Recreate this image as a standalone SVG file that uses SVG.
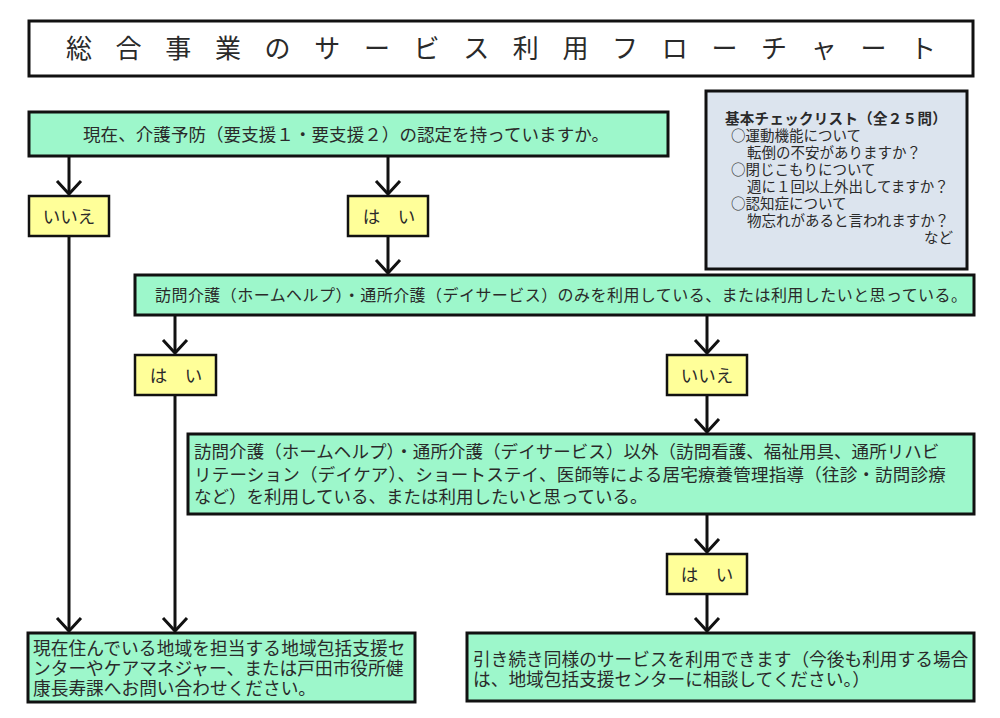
<svg xmlns="http://www.w3.org/2000/svg" width="1000" height="718" viewBox="0 0 1000 718">
<style>
text{font-family:"Noto Sans CJK JP","Noto Sans CJK SC",sans-serif;fill:#2a2a2a}
.box{fill:#9DF7CB;stroke:#111;stroke-width:3}
.ans{fill:#FFFF99;stroke:#111;stroke-width:2.5}
.title{fill:#fff;stroke:#111;stroke-width:3}
.note{fill:#DCE4EE;stroke:#111;stroke-width:3}
.conn{stroke:#111;stroke-width:3;fill:none;marker-end:url(#v)}
.t17{font-size:17.5px}
.t16{font-size:16px}
.t18{font-size:17.7px}
.lab{font-size:17.5px;text-anchor:middle}
.n{font-size:14.5px}
</style>
<defs>
<marker id="v" markerUnits="userSpaceOnUse" viewBox="-16 -16 32 32" markerWidth="32" markerHeight="32" refX="0" refY="0" orient="auto">
<path d="M-13,-12 L0,0 L-13,12" fill="none" stroke="#111" stroke-width="3"/>
</marker>
</defs>
<rect width="1000" height="718" fill="#fff"/>

<g id="title">
<rect class="title" x="29" y="21" width="944" height="55"/>
<text style="font-size:26px;text-anchor:middle" y="58" x="79 128.6 178.3 227.9 277.6 327.2 376.9 426.5 476.2 525.8 575.5 625.1 674.8 724.4 774.1 823.7 873.4 923">総合事業のサービス利用フローチャート</text>
</g>

<g id="connectors">
<line class="conn" x1="69" y1="156" x2="69" y2="194"/>
<line class="conn" x1="388" y1="156" x2="388" y2="194"/>
<line class="conn" x1="388" y1="236" x2="388" y2="273"/>
<line class="conn" x1="69" y1="236" x2="69" y2="631"/>
<line class="conn" x1="175" y1="315" x2="175" y2="353"/>
<line class="conn" x1="175" y1="395" x2="175" y2="631"/>
<line class="conn" x1="707" y1="315" x2="707" y2="353"/>
<line class="conn" x1="707" y1="395" x2="707" y2="432"/>
<line class="conn" x1="707" y1="514" x2="707" y2="552"/>
<line class="conn" x1="707" y1="594" x2="707" y2="631"/>
</g>

<g id="q1">
<rect class="box" x="29" y="112" width="639" height="44"/>
<text class="t17" x="83" y="141" textLength="526" lengthAdjust="spacing">現在、介護予防（要支援１・要支援２）の認定を持っていますか。</text>
</g>

<g id="checklist">
<rect class="note" x="706" y="91" width="261" height="178"/>
<text class="n" x="725" y="124"><tspan font-weight="bold" letter-spacing="0.3">基本チェックリスト（全２５問）</tspan><tspan x="731" dy="17">○運動機能について</tspan><tspan x="747" dy="17">転倒の不安がありますか？</tspan><tspan x="731" dy="17">○閉じこもりについて</tspan><tspan x="747" dy="17">週に１回以上外出してますか？</tspan><tspan x="731" dy="17">○認知症について</tspan><tspan x="747" dy="17">物忘れがあると言われますか？</tspan><tspan x="924" dy="17">など</tspan></text>
</g>

<g id="a1-no">
<rect class="ans" x="29" y="196" width="80" height="40"/>
<text class="lab" x="69" y="223">いいえ</text>
</g>

<g id="a1-yes">
<rect class="ans" x="348" y="196" width="80" height="40"/>
<text class="lab" x="389" y="223">は　い</text>
</g>

<g id="q2">
<rect class="box" x="135" y="275" width="839" height="40"/>
<text class="t16" x="155" y="301" textLength="812" lengthAdjust="spacing">訪問介護（ホームヘルプ）・通所介護（デイサービス）のみを利用している、または利用したいと思っている。</text>
</g>

<g id="a2-yes">
<rect class="ans" x="135" y="355" width="81" height="40"/>
<text class="lab" x="176" y="382">は　い</text>
</g>

<g id="a2-no">
<rect class="ans" x="667" y="355" width="80" height="40"/>
<text class="lab" x="707" y="382">いいえ</text>
</g>

<g id="q3">
<rect class="box" x="188" y="434" width="786" height="80"/>
<text class="t17" x="194" y="458"><tspan letter-spacing="0.05">訪問介護（ホームヘルプ）・通所介護（デイサービス）以外（訪問看護、福祉用具、通所リハビ</tspan><tspan x="194" dy="22.5" letter-spacing="0.22">リテーション（デイケア）、ショートステイ、医師等による居宅療養管理指導（往診・訪問診療</tspan><tspan x="194" dy="22.5">など）を利用している、または利用したいと思っている。</tspan></text>
</g>

<g id="a3-yes">
<rect class="ans" x="667" y="554" width="80" height="40"/>
<text class="lab" x="707" y="581">は　い</text>
</g>

<g id="result-contact">
<rect class="box" x="28" y="633" width="387" height="69"/>
<text class="t18" x="33" y="654.5"><tspan letter-spacing="0.1">現在住んでいる地域を担当する地域包括支援セ</tspan><tspan x="33" dy="20">ンターやケアマネジャー、または戸田市役所健</tspan><tspan x="33" dy="20">康長寿課へお問い合わせください。</tspan></text>
</g>

<g id="result-continue">
<rect class="box" x="467" y="633" width="507" height="68"/>
<text class="t18" x="473" y="666"><tspan>引き続き同様のサービスを利用できます（今後も利用する場合</tspan><tspan x="473" dy="20">は、地域包括支援センターに相談してください。）</tspan></text>
</g>
</svg>
